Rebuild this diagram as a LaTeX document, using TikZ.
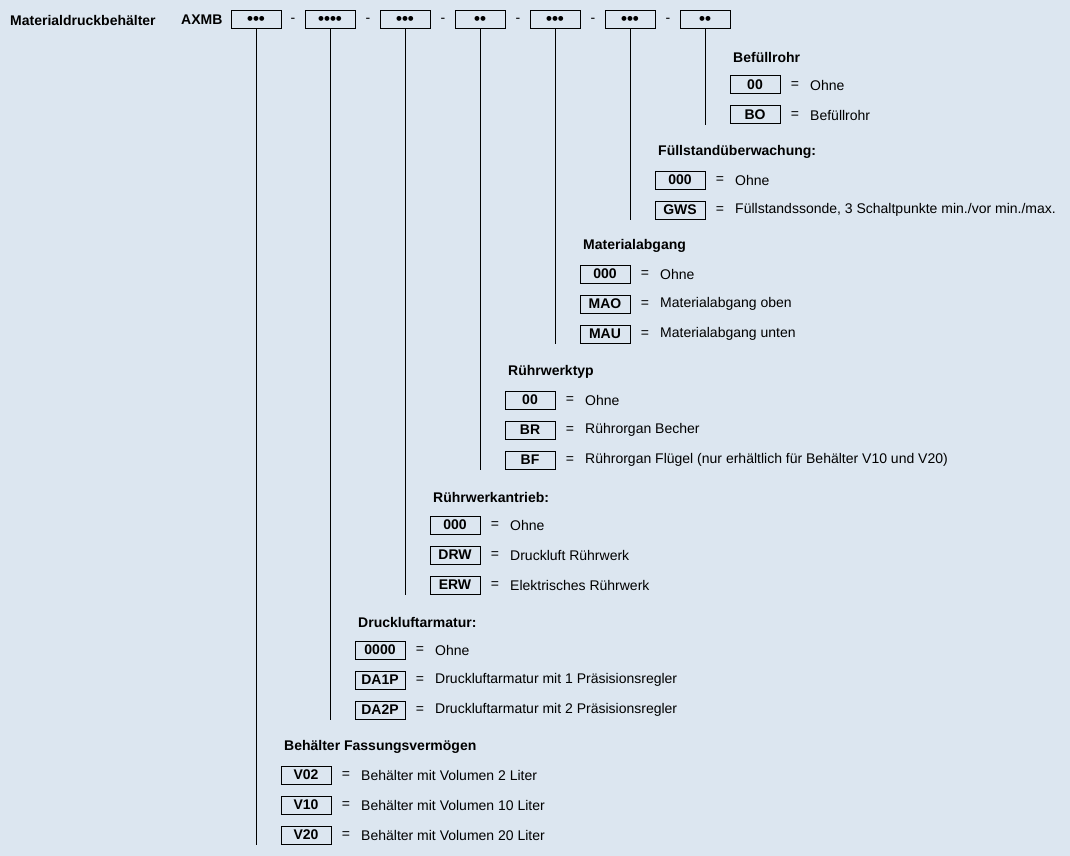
\documentclass[tikz,border=0pt]{standalone}
\usepackage{fontspec}
\setmainfont{Liberation Sans}
\usetikzlibrary{positioning}
\definecolor{bgblue}{HTML}{DCE6F0}

\tikzset{
  base/.style={font=\fontsize{14}{16}\selectfont},
  code/.style={draw, line width=1pt, minimum width=50pt, minimum height=18pt,
    inner sep=0pt, font=\fontsize{14}{16}\selectfont\bfseries},
  dots/.style={code, font=\fontsize{17}{17}\selectfont\bfseries},
  title/.style={anchor=west, inner sep=0pt, font=\fontsize{14}{16}\selectfont\bfseries},
  txt/.style={anchor=west, inner sep=0pt},
  stem/.style={line width=1pt}
}

% #1 index, #2 stem x, #3 title y, #4 title, #5 code/text list
\newcommand\codegroup[5]{
  \node[title] (t#1) at (#2+28,#3) {#4};
  \foreach \c/\t [count=\i] in {#5} {
    \node[code] (b#1\i) at (#2+50,#3+28+30*\i-30) {\c};
    \node (q#1\i) at (#2+90,#3+28+30*\i-30) {=};
    \node[txt] (d#1\i) at (#2+105,#3+28+30*\i-30) {\t};
    \coordinate (e#1) at (#2,#3+38+30*\i-30);
  }
  \draw[stem] (c#1.south) -- (e#1);
}

\begin{document}
\begin{tikzpicture}[x=1pt, y=-1pt, base]
\fill[bgblue] (0,0) rectangle (1070,856);
\useasboundingbox (0,0) rectangle (1070,856);

\node[title] (head) at (10,20) {Materialdruckbehälter};
\node[title] (axmb) at (181,20) {AXMB};

% -------- code boxes -----------
\node[dots] (c1) at (256,20) {•••};
\node[dots] (c2) at (330,20) {••••};
\node[dots] (c3) at (405,20) {•••};
\node[dots] (c4) at (480,20) {••};
\node[dots] (c5) at (555,20) {•••};
\node[dots] (c6) at (630,20) {•••};
\node[dots] (c7) at (705,20) {••};
\foreach \x in {293,368,443,518,593,668}
  \node (dash\x) at (\x,20) {-};

% -------- groups -----------
\codegroup{7}{705}{57}{Befüllrohr}{00/Ohne, BO/Befüllrohr}
\codegroup{6}{630}{152}{Füllstandüberwachung:}{000/Ohne,
  GWS/{Füllstandssonde, 3 Schaltpunkte min./vor min./max.}}
\codegroup{5}{555}{246}{Materialabgang}{000/Ohne, MAO/Materialabgang oben,
  MAU/Materialabgang unten}
\codegroup{4}{480}{372}{Rührwerktyp}{00/Ohne, BR/Rührorgan Becher,
  BF/Rührorgan Flügel (nur erhältlich für Behälter V10 und V20)}
\codegroup{3}{405}{497}{Rührwerkantrieb:}{000/Ohne, DRW/Druckluft Rührwerk,
  ERW/Elektrisches Rührwerk}
\codegroup{2}{330}{622}{Druckluftarmatur:}{0000/Ohne,
  DA1P/Druckluftarmatur mit 1 Präsisionsregler,
  DA2P/Druckluftarmatur mit 2 Präsisionsregler}
\codegroup{1}{256}{747}{Behälter Fassungsvermögen}{V02/Behälter mit Volumen 2 Liter,
  V10/Behälter mit Volumen 10 Liter, V20/Behälter mit Volumen 20 Liter}
\end{tikzpicture}
\end{document}
